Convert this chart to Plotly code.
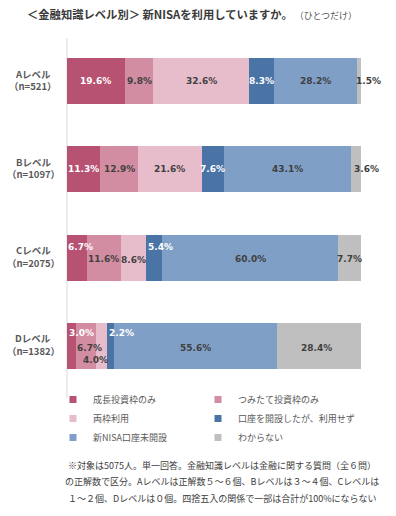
import plotly.graph_objects as go

# ---- data ----
levels = ["Aレベル", "Bレベル", "Cレベル", "Dレベル"]
sample_sizes = ["521", "1097", "2075", "1382"]
series_names = ["成長投資枠のみ", "つみたて投資枠のみ", "両枠利用",
                "口座を開設したが、利用せず", "新NISA口座未開設", "わからない"]
growth_only = [19.6, 11.3, 6.7, 3.0]
tsumitate_only = [9.8, 12.9, 11.6, 6.7]
both_used = [32.6, 21.6, 8.6, 4.0]
opened_unused = [8.3, 7.6, 5.4, 2.2]
not_opened = [28.2, 43.1, 60.0, 55.6]
unknown = [1.5, 3.6, 7.7, 28.4]

series_values = [growth_only, tsumitate_only, both_used, opened_unused, not_opened, unknown]

# ---- styles ----
colors = ["#B75273", "#D38DA2", "#E7BDCB", "#4A73A6", "#7F9FC7", "#BFBFBF"]
label_colors = ["white", "#404040", "#404040", "white", "#404040", "#404040"]
# per-label nudges (px) to avoid overlap, keyed by (series index, level index)
nudges = {
    (5, 0): (10, 0),
    (5, 1): (10, 0),
    (0, 2): (4, 11), (1, 2): (0, -1), (2, 2): (0, -2), (3, 2): (6, 11),
    (4, 2): (0, -1), (5, 2): (0, -1),
    (0, 3): (10, 13), (1, 3): (4, -2), (2, 3): (-6, -14), (3, 3): (11, 13),
    (4, 3): (0, -2), (5, 3): (-2, -2),
}

# page body adds an 8px offset; figure is sized to compensate
OFF = 8
W, H = 396 - OFF, 516 - OFF
PLOT_L, PLOT_R, PLOT_T, PLOT_B = 67 - OFF, 361 - OFF, 37 - OFF, 390 - OFF
ML, MR, MT, MB = PLOT_L, W - PLOT_R, PLOT_T, H - PLOT_B

pw = PLOT_R - PLOT_L
ph = PLOT_B - PLOT_T
def px_to_paper_x(px):
    return (px - OFF - PLOT_L) / pw
def px_to_paper_y(py):
    return (PLOT_B - (py - OFF)) / ph

fig = go.Figure()
for i, (name, vals, col) in enumerate(zip(series_names, series_values, colors)):
    fig.add_trace(go.Bar(
        y=levels, x=vals, name=name, orientation="h",
        marker=dict(color=col, line=dict(width=0)),
        showlegend=False, hoverinfo="x+name",
    ))
    # legend proxy with small square symbol (two legend columns)
    fig.add_trace(go.Scatter(
        x=[None], y=[None], mode="markers", name=name,
        marker=dict(symbol="square", size=7, color=col),
        showlegend=True, legend="legend" if i % 2 == 0 else "legend2",
    ))

annotations = []
for li, lev in enumerate(levels):
    cum = 0.0
    for si, vals in enumerate(series_values):
        v = vals[li]
        dx, dy = nudges.get((si, li), (0, 0))
        annotations.append(dict(
            x=cum + v / 2, y=lev, xref="x", yref="y",
            text=f"{v:.1f}%", showarrow=False,
            xshift=dx, yshift=dy,
            font=dict(family="DejaVu Sans", size=9, color=label_colors[si], weight="bold"),
        ))
        cum += v
    # category label (two lines)
    for txt, ys in ((f"<b>{lev}</b>", 7.5), (f"<b>（n={sample_sizes[li]}）</b>", -5)):
        annotations.append(dict(
            x=px_to_paper_x(33), y=lev, xref="paper", yref="y", yshift=ys,
            xanchor="center", yanchor="middle", align="center", showarrow=False,
            text=txt,
            font=dict(family="Noto Sans CJK JP", size=9.5, color="#595959"),
        ))

# title
annotations.append(dict(
    x=px_to_paper_x(25), y=px_to_paper_y(14), xref="paper", yref="paper",
    xanchor="left", yanchor="middle", showarrow=False,
    text="<b>＜金融知識レベル別＞ 新NISAを利用していますか。</b><span style='font-size:9px;color:#595959'> （ひとつだけ）</span>",
    font=dict(family="Noto Sans CJK JP", size=11.3, color="#3A3A3A"),
))

footnotes = [
    "※対象は5075人。単一回答。金融知識レベルは金融に関する質問（全６問）",
    "の正解数で区分。Aレベルは正解数５～６個、Bレベルは３～４個、Cレベルは",
    "１～２個、Dレベルは０個。四捨五入の関係で一部は合計が100%にならない",
]
for line, py in zip(footnotes, [465, 481.5, 498]):
    annotations.append(dict(
        x=px_to_paper_x(222), y=px_to_paper_y(py), xref="paper", yref="paper",
        xanchor="center", yanchor="middle", showarrow=False, text=line,
        font=dict(family="Noto Sans CJK JP", size=9, color="#404040"),
    ))

legend_common = dict(
    orientation="v", xanchor="left", yanchor="top", traceorder="normal",
    font=dict(family="Noto Sans CJK JP", size=9, color="#595959"),
    tracegroupgap=0, itemwidth=30, bgcolor="rgba(0,0,0,0)",
)

fig.update_layout(
    width=W, height=H,
    margin=dict(l=ML, r=MR, t=MT, b=MB, pad=0, autoexpand=False),
    paper_bgcolor="white", plot_bgcolor="white",
    barmode="stack", bargap=0.48,
    font=dict(family="Noto Sans CJK JP", color="#595959"),
    xaxis=dict(range=[0, 100], visible=False, fixedrange=True),
    yaxis=dict(
        autorange="reversed", showticklabels=False,
        ticks="", showgrid=False, showline=False, zeroline=False,
        automargin=False,
    ),
    legend=dict(x=px_to_paper_x(53), y=px_to_paper_y(385), **legend_common),
    legend2=dict(x=px_to_paper_x(198), y=px_to_paper_y(385), **legend_common),
    shapes=[dict(type="line", xref="paper", yref="paper", x0=0, x1=0,
                 y0=px_to_paper_y(398), y1=px_to_paper_y(38),
                 line=dict(color="#D9D9D9", width=1), layer="below")],
    annotations=annotations,
)

fig.write_html("out.html")
